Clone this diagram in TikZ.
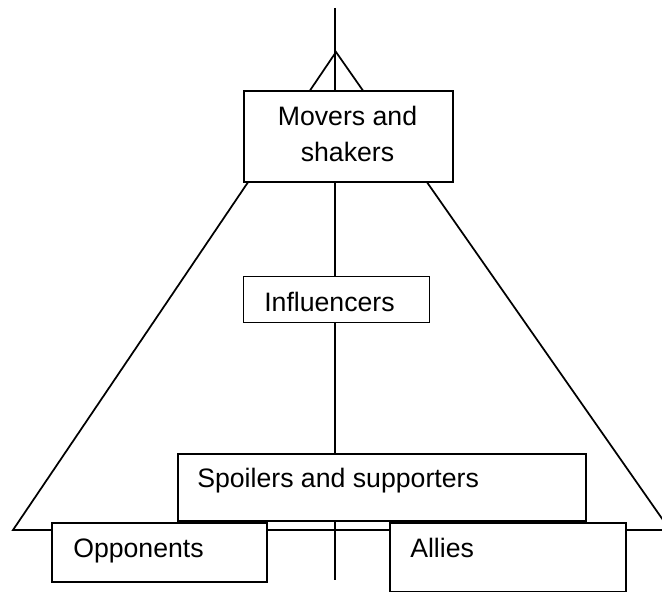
\documentclass[tikz,border=0pt]{standalone}
\usepackage{fontspec}
\setmainfont{Liberation Sans}
\begin{document}
\begin{tikzpicture}[x=0.75pt,y=-0.75pt,
  line/.style={line width=1.3pt,black},
  box/.style={draw=black,line width=1.3pt,fill=white,inner sep=0pt},
  label/.style={inner sep=0pt,font=\fontsize{20pt}{27pt}\selectfont}]
\useasboundingbox (0,0) rectangle (662,592);
\clip (0,0) rectangle (662,592);

% key points of the pyramid and the central axis
\coordinate (apex) at (336,52);
\coordinate (baseL) at (13,530);
\coordinate (baseR) at (670,530);
\coordinate (axisTop) at (335,8);
\coordinate (axisBot) at (335,580);

\draw[line] (axisTop) -- (axisBot);
\draw[line] (baseL) -- (apex) -- (baseR) -- cycle;

% boxes, painted over the lines
\node[box,anchor=north west,minimum width=209*0.75pt,minimum height=91*0.75pt] (movers) at (243,90) {};
\node[box,anchor=north west,minimum width=186*0.75pt,minimum height=46*0.75pt,line width=1.1pt] (influencers) at (243,276) {};
\node[box,anchor=north west,minimum width=408*0.75pt,minimum height=67*0.75pt] (spoilers) at (177,453) {};
\node[box,anchor=north west,minimum width=215*0.75pt,minimum height=59*0.75pt] (opponents) at (51,522) {};
\node[box,anchor=north west,minimum width=236*0.75pt,minimum height=69*0.75pt] (allies) at (389,522) {};

% texts
\node[label,anchor=base] (moversA) at (347.5,126) {Movers and};
\node[label,anchor=base] (moversB) at (347.5,162) {shakers};
\node[label,anchor=base west] (influencersT) at (264,312) {Influencers};
\node[label,anchor=base west] (spoilersT) at (197,488) {Spoilers and supporters};
\node[label,anchor=base west] (opponentsT) at (73,557) {Opponents};
\node[label,anchor=base west] (alliesT) at (410,557) {Allies};
\end{tikzpicture}
\end{document}
